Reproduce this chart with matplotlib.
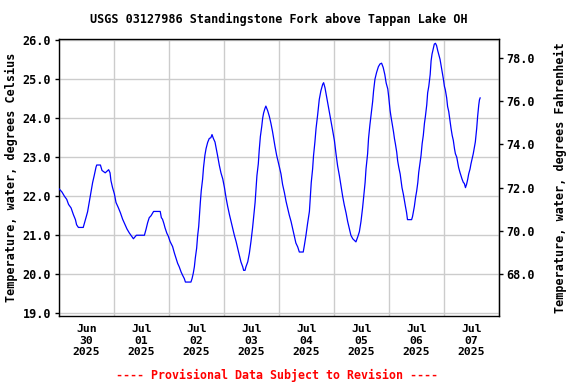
import matplotlib
matplotlib.use("Agg")
import matplotlib.pyplot as plt
import numpy as np

# hours since 2025-06-30 00:00 and water temperature (deg C)
hours = [0, 1.4, 2.5, 3.5, 4.3, 5.4, 6.4, 7.3, 7.8, 8.6, 10.7, 11.2, 11.9, 12.6, 13.4, 14.1, 14.8, 15.5, 16.3, 16.6,
         18.2, 18.9, 20.3, 21.8, 22.4, 22.8, 23.5,
         24.3, 25.0, 26.0, 26.9, 27.9, 28.9, 29.8, 30.8, 31.5, 32.6, 33.9, 37.4, 38.1, 38.8, 39.5, 40.3, 41.4, 44.3,
         44.8, 45.3, 45.9, 46.4, 47.2, 47.8,
         48.6, 49.7, 50.5, 51.2, 51.9, 52.6, 53.4, 54.1, 54.8, 55.3, 57.7, 58.2, 58.7, 59.2, 59.6, 60.2, 60.6, 61.1,
         61.4, 61.8, 62.2, 62.8, 63.2, 63.8, 64.3, 65.0, 65.7, 66.4, 66.9, 67.5, 68.2, 68.9, 69.3, 70.1, 70.8, 71.6,
         72.3, 73.0, 73.7, 74.5, 75.2, 75.9, 76.6, 77.4, 78.1, 78.8, 79.5, 80.3, 80.7, 81.3, 81.7, 82.5, 83.2, 83.9,
         84.6, 85.1, 85.7, 86.1, 86.5, 87.1, 87.5, 88.0, 88.6, 89.0, 89.4, 90.0, 90.4, 91.2, 91.9, 92.6, 93.3, 93.8,
         94.4, 95.1, 95.8, 96.5, 97.0,
         97.7, 98.5, 99.2, 99.9, 100.6, 101.4, 102.1, 102.8, 103.5, 104.3, 105.0, 106.7, 107.2, 107.9, 108.6, 109.4,
         109.8, 110.2, 110.8, 111.2, 111.8, 112.3, 113.0, 113.7, 114.4, 115.2, 115.6, 116.2, 116.6, 117.3, 118.1,
         118.8, 119.5, 120.3, 121.0,
         121.7, 122.5, 123.2, 123.9, 124.6, 125.4, 126.1, 126.8, 127.5, 128.3, 129.0, 129.7, 130.5, 131.2, 131.9,
         132.6, 133.1, 133.7, 134.1, 134.8, 135.2, 135.8, 136.3, 137.0, 137.4, 138.0, 138.7, 139.5, 140.2, 140.9,
         141.6, 142.3, 142.9, 143.6, 144.0, 144.6, 145.0, 145.5, 146.1, 146.5, 146.9, 147.5, 147.9, 148.4, 149.0,
         149.4, 149.8, 150.4, 150.9, 151.3, 151.8, 152.2, 154.0, 154.4, 154.8, 155.2, 155.7, 156.2, 156.7, 157.1,
         157.7, 158.1, 158.6, 159.1, 159.6, 160.0, 160.6, 161.0, 161.5, 162.1, 162.5, 162.9, 163.5, 163.9, 164.4,
         164.9, 165.4, 165.8, 166.4, 166.9, 167.3, 167.9, 168.3, 168.7, 169.3, 169.7, 170.2, 170.8, 171.2, 171.7,
         172.2, 172.7, 173.1, 173.7, 174.1, 174.5, 175.1, 175.6, 176.0, 176.6, 177.0, 177.5, 178.0, 178.5, 178.9,
         179.5, 179.9, 180.4, 180.9, 181.4, 181.8, 182.4, 182.8, 183.3, 183.6, 183.9]
temp_c = [22.2, 22.11, 22.0, 21.92, 21.79, 21.7, 21.53, 21.4, 21.27, 21.2, 21.2, 21.3, 21.45, 21.6, 21.87, 22.1, 22.35,
          22.53, 22.75, 22.8, 22.8, 22.66, 22.6, 22.68, 22.6, 22.4, 22.22,
          22.06, 21.84, 21.71, 21.58, 21.41, 21.28, 21.16, 21.06, 21.0, 20.91, 21.0, 21.0, 21.15, 21.32, 21.45, 21.5,
          21.61, 21.61,
          21.45, 21.41, 21.3, 21.19, 21.05, 20.98,
          20.84, 20.71, 20.54, 20.41, 20.28, 20.19, 20.06, 19.97, 19.89, 19.8, 19.8, 19.89, 20.02, 20.19, 20.41, 20.67,
          20.97, 21.23, 21.49, 21.84, 22.14, 22.44, 22.74, 23.05, 23.22, 23.38, 23.48, 23.5, 23.58, 23.48, 23.39,
          23.18, 23.05, 22.79, 22.6, 22.44,
          22.23, 21.97, 21.75, 21.53, 21.36, 21.19, 21.01, 20.84, 20.67, 20.49, 20.32, 20.19, 20.1, 20.1, 20.19,
          20.32, 20.54, 20.84, 21.19, 21.49, 21.84, 22.18, 22.53, 22.83, 23.18, 23.53, 23.79, 24.0, 24.13, 24.25,
          24.31, 24.19, 24.05, 23.87, 23.66, 23.48, 23.27, 23.05, 22.88, 22.7, 22.57,
          22.3, 22.09, 21.87, 21.7, 21.52, 21.35, 21.17, 21.0, 20.8, 20.7, 20.57, 20.57, 20.74, 21.0, 21.3, 21.61,
          22.0, 22.35, 22.7, 23.04, 23.39, 23.74, 24.09, 24.48, 24.7, 24.87, 24.91, 24.78, 24.65, 24.43, 24.17,
          23.93, 23.7, 23.43, 23.09,
          22.78, 22.52, 22.26, 22.0, 21.78, 21.57, 21.35, 21.17, 21.0, 20.91, 20.87, 20.83, 20.96, 21.09, 21.35,
          21.7, 22.0, 22.35, 22.7, 23.09, 23.48, 23.83, 24.09, 24.43, 24.7, 25.0, 25.17, 25.32, 25.39, 25.41,
          25.3, 25.12, 24.9, 24.75, 24.55, 24.2, 24.04, 23.87, 23.65, 23.48, 23.35, 23.13, 22.91, 22.74, 22.57,
          22.39, 22.22, 22.05, 21.87, 21.74, 21.58, 21.4, 21.4, 21.48, 21.61, 21.74, 21.96, 22.13, 22.35, 22.61,
          22.87, 23.04, 23.35, 23.56, 23.87, 24.04, 24.34, 24.65, 24.82, 25.12, 25.47, 25.64, 25.8, 25.9, 25.92,
          25.86, 25.73, 25.64, 25.51, 25.34, 25.21, 24.99, 24.82, 24.73, 24.52, 24.3, 24.17, 23.91, 23.74, 23.56,
          23.43, 23.22, 23.09, 23.0, 22.87, 22.74, 22.61, 22.52, 22.44, 22.35, 22.33, 22.22, 22.31, 22.44, 22.57,
          22.7, 22.83, 22.96, 23.09, 23.26, 23.39, 23.74, 24.04, 24.34, 24.47, 24.52]

day_labels = ["Jun\n30\n2025", "Jul\n01\n2025", "Jul\n02\n2025", "Jul\n03\n2025",
              "Jul\n04\n2025", "Jul\n05\n2025", "Jul\n06\n2025", "Jul\n07\n2025"]
c_ticks = [19.0, 20.0, 21.0, 22.0, 23.0, 24.0, 25.0, 26.0]
f_ticks = [68.0, 70.0, 72.0, 74.0, 76.0, 78.0]

title = "USGS 03127986 Standingstone Fork above Tappan Lake OH"
footer = "---- Provisional Data Subject to Revision ----"

FONT = "DejaVu Sans Mono"
fig = plt.figure(figsize=(5.76, 3.84), dpi=100)
ax = fig.add_axes([58.7/576, 1-316/384, (498.7-58.7)/576, (316-39)/384])

ax.plot(hours, temp_c, color="#0000ff", lw=0.9, zorder=3)

ax.set_xlim(0, 24*len(day_labels))
ax.set_ylim(18.93, 26.03)

ax.set_xticks(np.arange(0, 24*len(day_labels)+1, 24))
ax.set_xticklabels([])
ax.set_xticks(np.arange(12, 24*len(day_labels), 24), minor=True)
ax.set_xticklabels(day_labels, minor=True, fontfamily=FONT, fontweight="bold", fontsize=8.2,
                   linespacing=1.15)
ax.tick_params(axis="x", which="both", length=0, pad=6)

ax.set_yticks(c_ticks)
ax.set_yticklabels([f"{v:.1f}" for v in c_ticks], fontfamily=FONT, fontweight="bold", fontsize=8.5)
ax.tick_params(axis="y", which="major", length=3, width=1, direction="out", pad=2.5)

ax.grid(True, which="major", color="#cccccc", lw=1.0, zorder=0)
for s in ax.spines.values():
    s.set_color("black")
    s.set_linewidth(1.0)

ax.set_ylabel("Temperature, water, degrees Celsius", fontfamily=FONT, fontweight="bold",
              fontsize=8.5, labelpad=3)

sec = ax.secondary_yaxis("right", functions=(lambda c: c*9/5+32, lambda f: (f-32)*5/9))
sec.set_yticks(f_ticks)
sec.set_yticklabels([f"{v:.1f}" for v in f_ticks], fontfamily=FONT, fontweight="bold", fontsize=8.5)
sec.tick_params(axis="y", length=3, width=1, direction="out", pad=2.5)
sec.set_ylabel("Temperature, water, degrees Fahrenheit", fontfamily=FONT, fontweight="bold",
               fontsize=8.5, labelpad=14)

fig.text(278.7/576, 1-19/384, title, ha="center", va="center", fontfamily=FONT,
         fontweight="bold", fontsize=8.5)
fig.text(277/576, 1-375/384, footer, ha="center", va="center", fontfamily=FONT,
         fontweight="bold", fontsize=8.4, color="#ff0000")

fig.savefig("out.png", dpi=100)
